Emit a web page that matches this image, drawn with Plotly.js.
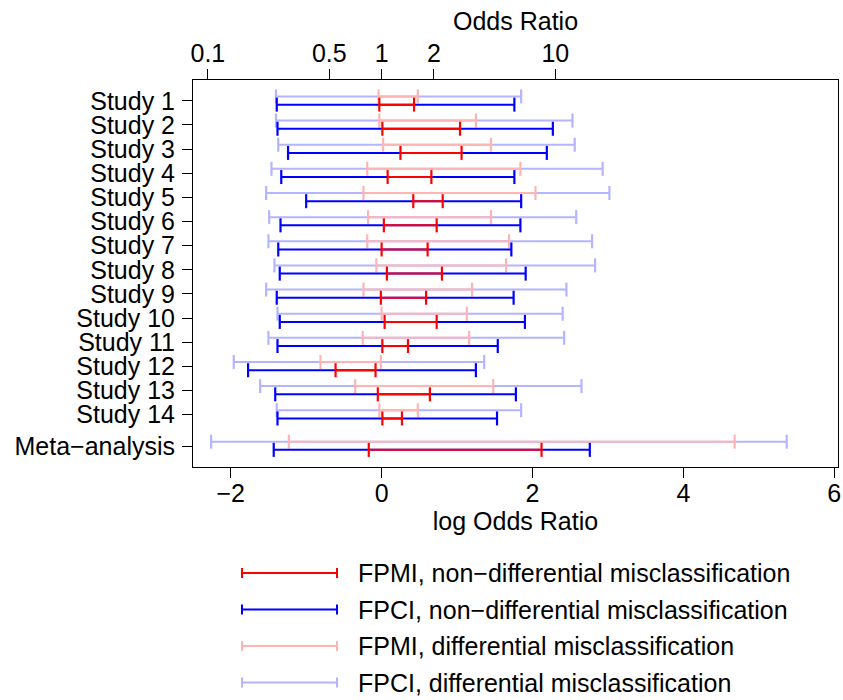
<!DOCTYPE html>
<html>
<head>
<meta charset="utf-8">
<script src="https://cdn.plot.ly/plotly-3.0.1.min.js"></script>
<style>
  html, body { margin: 0; padding: 0; background: #ffffff; }
  #chart { width: 843px; height: 700px; }
</style>
</head>
<body>
<div id="chart"></div>
<script>
// Study labels (top to bottom)
const studies = ['Study 1', 'Study 2', 'Study 3', 'Study 4', 'Study 5', 'Study 6', 'Study 7',
  'Study 8', 'Study 9', 'Study 10', 'Study 11', 'Study 12', 'Study 13', 'Study 14', 'Meta\u2212analysis'];

// Interval limits on the log odds ratio scale
// FPMI, non-differential misclassification
const fpmiNdLo = [-0.03, 0.01, 0.25, 0.08, 0.42, 0.03, 0.00, 0.07, -0.01, 0.04, 0.01, -0.61, -0.05, 0.01, -0.17];
const fpmiNdHi = [0.43, 1.04, 1.06, 0.66, 0.81, 0.73, 0.61, 0.80, 0.59, 0.73, 0.35, -0.08, 0.64, 0.27, 2.12];
// FPCI, non-differential misclassification
const fpciNdLo = [-1.39, -1.38, -1.24, -1.33, -1.00, -1.34, -1.37, -1.35, -1.39, -1.35, -1.38, -1.77, -1.41, -1.38, -1.43];
const fpciNdHi = [1.76, 2.27, 2.19, 1.76, 1.85, 1.84, 1.72, 1.91, 1.75, 1.90, 1.54, 1.25, 1.78, 1.53, 2.76];
// FPMI, differential misclassification
const fpmiDLo = [-0.04, -0.03, 0.02, -0.19, -0.24, -0.18, -0.19, -0.07, -0.24, 0.00, -0.25, -0.81, -0.35, -0.03, -1.23];
const fpmiDHi = [0.48, 1.25, 1.45, 1.84, 2.04, 1.45, 1.69, 1.65, 1.20, 1.13, 1.16, -0.01, 1.48, 0.48, 4.68];
// FPCI, differential misclassification
const fpciDLo = [-1.40, -1.40, -1.37, -1.46, -1.53, -1.49, -1.50, -1.42, -1.53, -1.38, -1.50, -1.96, -1.61, -1.39, -2.26];
const fpciDHi = [1.85, 2.53, 2.56, 2.93, 3.02, 2.58, 2.79, 2.83, 2.45, 2.40, 2.42, 1.36, 2.65, 1.85, 5.37];

// Odds ratio labels for the top axis
const oddsTicks = [0.1, 0.5, 1, 2, 10];
const logTicks = [-2, 0, 2, 4, 6];

const seriesNames = [
  'FPMI, non\u2212differential misclassification',
  'FPCI, non\u2212differential misclassification',
  'FPMI, differential misclassification',
  'FPCI, differential misclassification'
];

const RED = '#ff0000', BLUE = '#0000ff', PINK = '#ffb4b4', LIGHTBLUE = '#b4b4ff';
const FONT = '"Liberation Sans", Arial, Helvetica, sans-serif';
const FS = 25;

// Row positions: studies 1..14, meta-analysis set a bit apart
const rowPos = studies.map((s, i) => (i < 14 ? i + 1 : 15.3));
const UPPER = -0.18, LOWER = 0.16;

function intervalTrace(lo, hi, offset, color, name) {
  const x = [], y = [];
  lo.forEach((v, i) => {
    x.push(v, hi[i], null);
    y.push(rowPos[i] + offset, rowPos[i] + offset, null);
  });
  return {
    type: 'scatter', mode: 'lines+markers', name: name, x: x, y: y,
    line: { color: color, width: 2 },
    marker: { symbol: 'line-ns', size: 10, color: color, line: { color: color, width: 2.2 } },
    hoverinfo: 'x+name', showlegend: false, cliponaxis: false
  };
}

const traces = [
  intervalTrace(fpciDLo, fpciDHi, UPPER, LIGHTBLUE, seriesNames[3]),
  intervalTrace(fpmiDLo, fpmiDHi, UPPER, PINK, seriesNames[2]),
  intervalTrace(fpciNdLo, fpciNdHi, LOWER, BLUE, seriesNames[1]),
  intervalTrace(fpmiNdLo, fpmiNdHi, LOWER, RED, seriesNames[0])
];

// Hand-built key below the plot: line sample with end caps + label
const margin = { l: 193, r: 5, t: 80, b: 233 };
const W = 843, H = 700;
const pw = W - margin.l - margin.r, ph = H - margin.t - margin.b;
const px = v => (v - margin.l) / pw;
const py = v => (H - margin.b - v) / ph;
const keyColors = [RED, BLUE, PINK, LIGHTBLUE];
const shapes = [], annotations = [];
keyColors.forEach((c, i) => {
  const yy = 573 + i * 36.5;
  const x0 = 242, x1 = 337;
  shapes.push({ type: 'line', xref: 'paper', yref: 'paper', x0: px(x0), x1: px(x1), y0: py(yy), y1: py(yy), line: { color: c, width: 2 } });
  [x0, x1].forEach(xc => shapes.push({ type: 'line', xref: 'paper', yref: 'paper', x0: px(xc), x1: px(xc), y0: py(yy - 5), y1: py(yy + 5), line: { color: c, width: 2 } }));
  annotations.push({ xref: 'paper', yref: 'paper', x: px(356), y: py(yy), xanchor: 'left', yanchor: 'middle',
    text: seriesNames[i], showarrow: false, font: { family: FONT, size: FS, color: '#000' } });
});

const axisCommon = {
  showgrid: false, zeroline: false, showline: true, linecolor: '#000', linewidth: 1,
  ticks: 'outside', ticklen: 10, tickwidth: 1, tickcolor: '#000',
  tickfont: { family: FONT, size: FS, color: '#000' }
};

const layout = {
  width: W, height: H, margin: margin,
  paper_bgcolor: '#fff', plot_bgcolor: '#fff',
  showlegend: false,
  xaxis: Object.assign({}, axisCommon, {
    range: [-2.5, 6.05], tickmode: 'array', tickvals: logTicks,
    ticktext: logTicks.map(v => (v < 0 ? '\u2212' + Math.abs(v) : String(v))),
    mirror: true, ticklabelstandoff: -6,
    title: { text: 'log Odds Ratio', font: { family: FONT, size: FS, color: '#000' }, standoff: 6 }
  }),
  xaxis2: Object.assign({}, axisCommon, {
    overlaying: 'x', side: 'top', anchor: 'y',
    range: [-2.5, 6.05], tickmode: 'array', ticklabelstandoff: -3,
    tickvals: oddsTicks.map(v => Math.log(v)), ticktext: oddsTicks.map(String),
    title: { text: 'Odds Ratio', font: { family: FONT, size: FS, color: '#000' }, standoff: 1 }
  }),
  yaxis: Object.assign({}, axisCommon, {
    range: [16.17, 0.14], tickmode: 'array', tickvals: rowPos, ticktext: studies,
    mirror: true, ticklabelstandoff: 2
  }),
  shapes: shapes,
  annotations: annotations
};

// keep the top axis alive with an invisible anchor trace sharing the same scale
traces.push({ type: 'scatter', mode: 'markers', x: [logTicks[0]], y: [rowPos[0]], xaxis: 'x2',
  marker: { opacity: 0 }, hoverinfo: 'skip', showlegend: false });

Plotly.newPlot('chart', traces, layout, { displayModeBar: false, staticPlot: true });
</script>
</body>
</html>
